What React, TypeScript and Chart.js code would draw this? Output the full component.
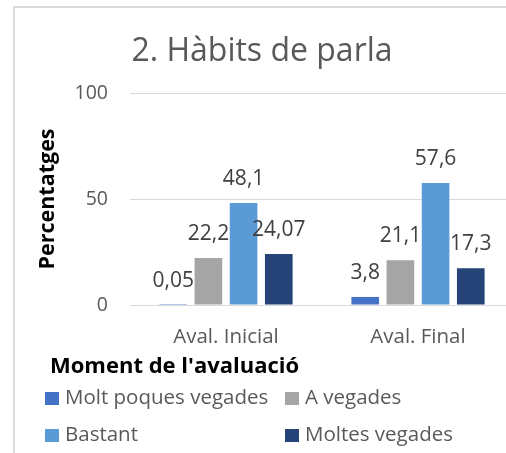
import React, { useEffect, useRef } from "react";
import { Chart, registerables } from "chart.js";

Chart.register(...registerables);

const categories = ["Aval. Inicial", "Aval. Final"];
const seriesNames = ["Molt poques vegades", "A vegades", "Bastant", "Moltes vegades"];
const molPoques = [0.05, 3.8];
const aVegades = [22.2, 21.1];
const bastant = [48.1, 57.6];
const moltesVegades = [24.07, 17.3];
const yTicks = [0, 50, 100];
const colors = ["#4472C4", "#A5A5A5", "#5B9BD5", "#264478"];

const FONT = "'Open Sans', sans-serif";

const extras = {
  id: "extras",
  beforeDraw(chart: any) {
    const ctx = chart.ctx;
    ctx.save();
    ctx.fillStyle = "#ffffff";
    ctx.fillRect(0, 0, chart.width, chart.height);
    ctx.strokeStyle = "#d9d9d9";
    ctx.lineWidth = 2;
    ctx.strokeRect(14, 7, 496, 470);
    ctx.restore();
  },
  afterDatasetsDraw(chart: any) {
    const ctx = chart.ctx;
    ctx.save();
    ctx.font = `21px ${FONT}`;
    ctx.fillStyle = "#404040";
    ctx.textAlign = "center";
    ctx.textBaseline = "middle";
    chart.data.datasets.forEach((ds: any, i: number) => {
      const meta = chart.getDatasetMeta(i);
      meta.data.forEach((bar: any, j: number) => {
        const txt = String(ds.data[j]).replace(".", ",");
        ctx.fillText(txt, bar.x, bar.y - 24);
      });
    });
    // x axis title
    const left = chart.chartArea.left;
    ctx.font = `bold 22px ${FONT}`;
    ctx.fillStyle = "#000000";
    ctx.textAlign = "left";
    ctx.fillText("Moment de l'avaluació", left - 80, 367);
    // legend
    ctx.font = `20.5px ${FONT}`;
    const cols = [left - 85, left + 155];
    const rows = [398.5, 435.5];
    chart.data.datasets.forEach((ds: any, i: number) => {
      const cx = cols[i % 2];
      const cy = rows[Math.floor(i / 2)];
      ctx.fillStyle = ds.backgroundColor;
      ctx.fillRect(cx, cy - 6.5, 14, 13);
      ctx.fillStyle = "#595959";
      ctx.fillText(ds.label, cx + 20, cy);
    });
    ctx.restore();
  },
};

export default function App() {
  const ref = useRef<HTMLCanvasElement>(null);
  useEffect(() => {
    const series = [molPoques, aVegades, bastant, moltesVegades];
    const chart = new Chart(ref.current!, {
      type: "bar",
      data: {
        labels: categories,
        datasets: series.map((d, i) => ({
          label: seriesNames[i],
          data: d,
          backgroundColor: colors[i],
          barPercentage: 0.786,
          categoryPercentage: 0.733,
        })),
      },
      options: {
        responsive: false,
        animation: false,
        layout: { padding: { left: 10, right: 16, top: 6, bottom: 0 } },
        plugins: {
          legend: { display: false },
          tooltip: { enabled: false },
          title: {
            display: true,
            text: "2. Hàbits de parla",
            color: "#595959",
            font: { family: FONT, size: 32, weight: "normal" },
            padding: { top: 27, bottom: 21.6 },
          },
        },
        scales: {
          x: {
            grid: { display: false, drawTicks: false },
            border: { display: false },
            ticks: {
              color: "#595959",
              font: { family: FONT, size: 20.5 },
              padding: 19.5,
            },
            afterFit(scale: any) {
              scale.height = 148;
            },
          },
          y: {
            min: 0,
            max: 100,
            afterBuildTicks(scale: any) {
              scale.ticks = yTicks.map((v) => ({ value: v }));
            },
            grid: { color: "#d9d9d9", lineWidth: 1, drawTicks: false },
            border: { display: false },
            ticks: {
              color: "#595959",
              font: { family: FONT, size: 19.5 },
              padding: 22,
            },
            title: {
              display: true,
              text: "Percentatges",
              color: "#000000",
              font: { family: FONT, size: 21.5, weight: "bold" },
              padding: { top: 25, bottom: 0 },
            },
            afterFit(scale: any) {
              scale.width = 120;
            },
          },
        },
      },
      plugins: [extras],
    });
    return () => chart.destroy();
  }, []);
  return (
    <div
      style={{
        position: "fixed",
        left: 0,
        top: 0,
        width: 506,
        height: 453,
        overflow: "hidden",
        background: "#fff",
      }}
    >
      <canvas ref={ref} width={530} height={453} style={{ display: "block" }} />
    </div>
  );
}
